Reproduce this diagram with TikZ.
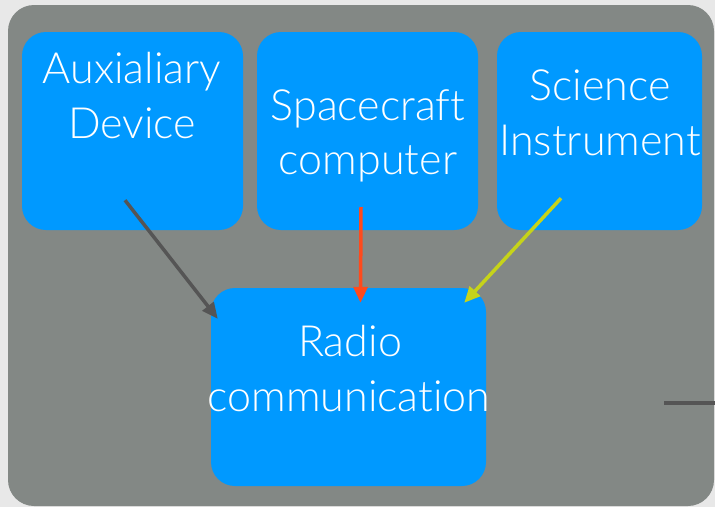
\documentclass[tikz,border=0pt]{standalone}
\usepackage{fontspec}
\setmainfont{Lato}[UprightFont={* Light}, Ligatures={NoCommon,NoRare}]
\usetikzlibrary{arrows.meta,calc}
\definecolor{outerbg}{HTML}{E8E8E8}
\definecolor{panelgray}{HTML}{838885}
\definecolor{boxblue}{HTML}{0099FF}
\definecolor{arrowdark}{HTML}{555555}
\definecolor{arrowred}{HTML}{FF4A1C}
\definecolor{arrowlime}{HTML}{C6D31A}
\tikzset{
  blockbox/.style={fill=boxblue, draw=none, rounded corners=24pt, inner sep=0pt},
  blocktext/.style={text=white, font=\fontsize{43}{55}\selectfont, align=center, inner sep=0pt, anchor=base},
  conn/.style={line width=3.5pt, -{Triangle[length=16pt,width=14pt]}},
}
\begin{document}
\begin{tikzpicture}[x=1pt,y=-1pt]
\useasboundingbox (0,0) rectangle (715,507);
\fill[outerbg] (0,0) rectangle (715,507);
\fill[panelgray, rounded corners=26pt] (8,5) rectangle (714,506);
% boxes
\node[blockbox, minimum width=221pt, minimum height=198pt] (aux) at (132.5,131) {};
\node[blockbox, minimum width=221pt, minimum height=198pt] (sc) at (367.5,131) {};
\node[blockbox, minimum width=205pt, minimum height=198pt] (sci) at (599.5,131) {};
\node[blockbox, minimum width=275pt, minimum height=198pt] (radio) at (348.5,387) {};
% texts
\node[blocktext] (auxt1) at (132,83) {Auxialiary};
\node[blocktext] (auxt2) at (132,138) {Device};
\node[blocktext] (sct1) at (368,120) {Spacecraft};
\node[blocktext] (sct2) at (368,174) {computer};
\node[blocktext] (scit1) at (600,100) {Science};
\node[blocktext] (scit2) at (600,155) {Instrument};
\node[blocktext] (radt1) at (350,356) {Radio};
\node[blocktext] (radt2) at (349,411) {communication};
% connector ends
\coordinate (a0) at ($(aux.south)+(-7.5,-30)$);
\coordinate (a1) at ($(radio.north west)+(7,31)$);
\coordinate (s0) at ($(sc.south)+(-6.5,-23)$);
\coordinate (s1) at ($(radio.north)+(12,15)$);
\coordinate (i0) at ($(sci.south)+(-38.5,-32)$);
\coordinate (i1) at ($(radio.north east)+(-22,15)$);
\coordinate (stub0) at (664,403);
\coordinate (stub1) at (715,403);
\draw[conn, arrowdark] (a0) -- (a1);
\draw[conn, arrowred] (s0) -- (s1);
\draw[conn, arrowlime] (i0) -- (i1);
\draw[arrowdark, line width=3.5pt] (stub0) -- (stub1);
\end{tikzpicture}
\end{document}
